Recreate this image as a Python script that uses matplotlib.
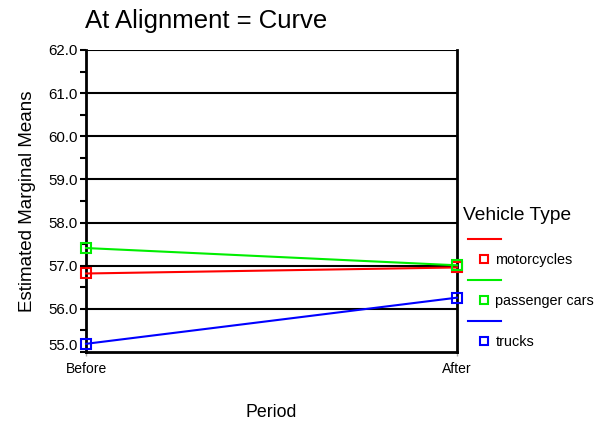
import matplotlib
matplotlib.use("Agg")
from matplotlib import pyplot as plt
from matplotlib.lines import Line2D
from matplotlib.ticker import MultipleLocator
from matplotlib.transforms import ScaledTranslation

plt.rcParams['font.family'] = ['Liberation Sans', 'DejaVu Sans']

periods = ['Before', 'After']
vehicle_types = ['motorcycles', 'passenger cars', 'trucks']
colors = ['#ff0000', '#00ee00', '#0000ff']
means = {
    'motorcycles': [56.82, 56.96],
    'passenger cars': [57.41, 57.01],
    'trucks': [55.19, 56.26],
}
y_ticks = [55.0, 56.0, 57.0, 58.0, 59.0, 60.0, 61.0, 62.0]

fig = plt.figure(figsize=(5.96, 4.23), dpi=100)
ax = fig.add_axes([0.1443, 0.1678, 0.6225, 0.714])

x = list(range(len(periods)))
for name, col in zip(vehicle_types, colors):
    ax.plot(x, means[name], color=col, lw=1.5, marker='s', markersize=7,
            markerfacecolor='none', markeredgecolor=col, markeredgewidth=1.5,
            clip_on=False, zorder=5)

ax.set_xlim(0, 1)
ax.set_ylim(55.0, 62.0)
ax.set_xticks(x)
ax.set_xticklabels(periods, fontsize=10)
ax.set_yticks(y_ticks)
ax.set_yticklabels(['%.1f' % v for v in y_ticks], fontsize=10.8)
ax.yaxis.set_minor_locator(MultipleLocator(0.5))
ax.tick_params(axis='y', which='both', length=4, width=1.5, direction='out', pad=2)
ax.tick_params(axis='x', length=3, width=1, color='#aaaaaa', pad=4)
# lowest label sits a little above the bottom axis, as in the original
lab = ax.get_yticklabels()[0]
lab.set_transform(lab.get_transform() + ScaledTranslation(0, 8 / 100, fig.dpi_scale_trans))
for v in y_ticks[1:]:
    ax.axhline(v, color='black', lw=1.5, zorder=1)
for side in ['left', 'right', 'bottom']:
    ax.spines[side].set_linewidth(2)
ax.spines['top'].set_visible(False)

ax.set_xlabel('Period', fontsize=12.8, labelpad=20)
ax.set_ylabel('Estimated Marginal Means', fontsize=13.5, labelpad=9)
fig.text(0.1426, 0.922, 'At Alignment = Curve', fontsize=18.5, ha='left', va='bottom')

handles = []
labels = []
for name, col in zip(vehicle_types, colors):
    handles.append(Line2D([], [], color=col, lw=1.5))
    labels.append('')
    handles.append(Line2D([], [], color=col, lw=0, marker='s', markersize=6,
                          markerfacecolor='none', markeredgewidth=1.5))
    labels.append(name)

fig.legend(handles, labels, loc='upper left', bbox_to_anchor=(0.785, 0.51),
           frameon=False, title='Vehicle Type', title_fontsize=13.8,
           alignment='left', fontsize=10.4, handlelength=2.3, handletextpad=-0.4,
           labelspacing=0.45, borderpad=0, borderaxespad=0)
leg = fig.legends[0]
leg._legend_box.sep = 6
t = leg.get_title()
t.set_transform(t.get_transform() + ScaledTranslation(-5 / 100, 0, fig.dpi_scale_trans))

fig.savefig('out.png', dpi=100)
